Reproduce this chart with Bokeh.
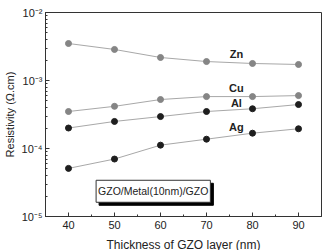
from bokeh.plotting import figure
from bokeh.embed import file_html
from bokeh.resources import INLINE
from bokeh.models import (Label, SingleIntervalTicker, CustomJSTickFormatter,
                          ColumnDataSource)
from bokeh.core.properties import value

thickness = [40, 50, 60, 70, 80, 90]
zn = [3.5e-3, 2.86e-3, 2.18e-3, 1.9e-3, 1.78e-3, 1.72e-3]
cu = [3.5e-4, 4.17e-4, 5.25e-4, 5.8e-4, 5.8e-4, 6.0e-4]
al = [2.0e-4, 2.5e-4, 2.95e-4, 3.5e-4, 3.84e-4, 4.43e-4]
ag = [5.1e-5, 7.0e-5, 1.12e-4, 1.37e-4, 1.68e-4, 1.95e-4]

series_names = ["Zn", "Cu", "Al", "Ag"]
series_values = [zn, cu, al, ag]
marker_colors = ["#858585", "#858585", "#1e1e1e", "#1e1e1e"]
label_x = [76.5, 76.5, 76.5, 76.5]
label_y = [2.45e-3, 7.7e-4, 4.6e-4, 2.1e-4]

note_text = "GZO/Metal(10nm)/GZO"

FONT = "Liberation Sans"

p = figure(frame_width=276, frame_height=204, width=327, height=250,
           x_range=(35, 95), y_range=(1e-5, 1e-2), y_axis_type="log",
           output_backend="svg", toolbar_location=None,
           min_border_left=44, min_border_right=7, min_border_top=12, min_border_bottom=34)
p.background_fill_color = "white"
p.border_fill_color = "white"
p.xgrid.visible = False
p.ygrid.visible = False
p.outline_line_color = "#333333"
p.outline_line_width = 1

for name, vals, col in zip(series_names, series_values, marker_colors):
    src = ColumnDataSource(dict(x=thickness, y=vals))
    p.line("x", "y", source=src, line_color="#a8a8a8", line_width=1)
    p.scatter("x", "y", source=src, size=6, fill_color=col, line_color=col)

p.text(x=label_x, y=label_y, text=series_names, text_font=value(FONT),
       text_font_size="11px", text_font_style="bold", text_color="#222222",
       text_align="center", text_baseline="middle")

# x axis
p.xaxis.ticker = SingleIntervalTicker(interval=10, num_minor_ticks=2)
p.xaxis.axis_label = "Thickness of GZO layer (nm)"
# y axis
p.yaxis.ticker.desired_num_ticks = 4
p.yaxis.axis_label = "Resistivity (\u03a9.cm)"
p.yaxis.formatter = CustomJSTickFormatter(code="""
    const e = Math.round(Math.log10(tick));
    const sup = {'-':'\u207b','0':'\u2070','1':'\u00b9','2':'\u00b2','3':'\u00b3','4':'\u2074','5':'\u2075','6':'\u2076','7':'\u2077','8':'\u2078','9':'\u2079'};
    return '10' + String(e).split('').map(c => sup[c]).join('');
""")

for ax in [p.xaxis[0], p.yaxis[0]]:
    ax.axis_line_color = "#333333"
    ax.major_tick_in = 4
    ax.major_tick_out = 0
    ax.minor_tick_in = 2
    ax.minor_tick_out = 0
    ax.major_tick_line_color = "#333333"
    ax.minor_tick_line_color = "#333333"
    ax.major_label_text_font = FONT
    ax.major_label_text_font_size = "11px"
    ax.major_label_text_color = "#222222"
    ax.axis_label_text_font = FONT
    ax.axis_label_text_font_size = "12px"
    ax.axis_label_text_font_style = "normal"
    ax.axis_label_text_color = "#222222"
p.yaxis.axis_label_text_font_size = "11px"
p.xaxis.major_label_standoff = 4
p.xaxis.axis_label_standoff = 6
p.yaxis.major_label_standoff = 3
p.yaxis.axis_label_standoff = 3

shadow = Label(x=46.0, y=2.35e-5, text=note_text, x_offset=3, y_offset=-3,
               text_font=FONT, text_font_size="10.5px", text_color="black",
               text_baseline="middle", text_align="left",
               background_fill_color="black", border_line_color="black", padding=(2, 5))
box = Label(x=46.0, y=2.35e-5, text=note_text,
            text_font=FONT, text_font_size="10.5px", text_color="#222222",
            text_baseline="middle", text_align="left",
            background_fill_color="white", border_line_color="#333333", padding=(2, 5))
p.add_layout(shadow)
p.add_layout(box)

open("out.html", "w").write(file_html(p, INLINE))
